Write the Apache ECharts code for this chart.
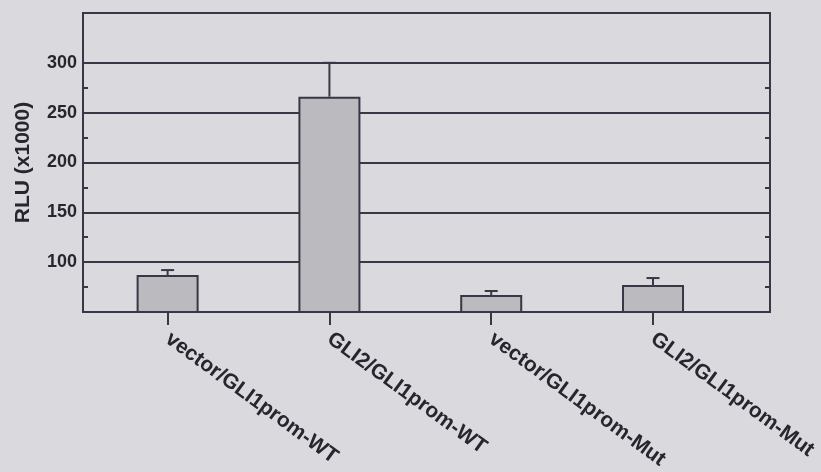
<!DOCTYPE html>
<html>
<head>
<meta charset="utf-8">
<script src="https://cdn.jsdelivr.net/npm/echarts@6/dist/echarts.min.js"></script>
<style>
  html, body { margin: 0; padding: 0; background: #dad9de; }
  #chart { width: 821px; height: 472px; }
</style>
</head>
<body>
<div id="chart"></div>
<script>
// Luciferase reporter activity, RLU (x1000)
const categories = [
  'vector/GLI1prom-WT',
  'GLI2/GLI1prom-WT',
  'vector/GLI1prom-Mut',
  'GLI2/GLI1prom-Mut'
];
const meanValues = [87, 266, 67, 77];
const errorTops  = [92, 300, 71, 84];
const yTicks = [100, 150, 200, 250, 300];
const yMinorTicks = [75, 125, 175, 225, 275];

const ink = '#373846';
const textInk = '#26262e';
const barFill = '#bbbabe';
const font = 'Liberation Sans, Arial, Helvetica, sans-serif';

const positions = categories.map((_, i) => i + 1);
const barData = positions.map((p, i) => [p, meanValues[i]]);
const errData = positions.map((p, i) => [p, meanValues[i], errorTops[i]]);

// small inward ticks between the gridlines, on either side of the plot
function minorTickAxis(side) {
  return {
    type: 'value',
    position: side,
    min: 50, max: 350, interval: 50,
    axisLine: { show: true, lineStyle: { color: ink, width: 2 } },
    axisTick: { show: true, inside: true, length: 5, lineStyle: { color: ink, width: 2 }, customValues: yMinorTicks },
    splitLine: { show: false },
    axisLabel: { show: false }
  };
}

const chart = echarts.init(document.getElementById('chart'));
chart.setOption({
  backgroundColor: '#dad9de',
  animation: false,
  grid: {
    left: 83, right: 51, top: 13, bottom: 160,
    containLabel: false,
    show: true, borderColor: ink, borderWidth: 2, backgroundColor: 'transparent'
  },
  xAxis: {
    type: 'value',
    min: 0.477, max: 4.723,
    axisLine: { show: true, onZero: false, lineStyle: { color: ink, width: 2 } },
    axisTick: { show: true, inside: false, length: 13, lineStyle: { color: ink, width: 2 }, customValues: positions },
    splitLine: { show: false },
    axisLabel: {
      customValues: positions,
      rotate: -36,
      margin: 25,
      color: textInk,
      fontFamily: font,
      fontSize: 21,
      fontWeight: 'bold',
      formatter: v => categories[Math.round(v) - 1] || ''
    }
  },
  yAxis: [{
    type: 'value',
    position: 'left',
    min: 50, max: 350, interval: 50,
    name: 'RLU (x1000)',
    nameLocation: 'middle',
    nameGap: 49,
    nameTextStyle: { color: textInk, fontFamily: font, fontSize: 21, fontWeight: 'bold' },
    axisLine: { show: true, lineStyle: { color: ink, width: 2 } },
    axisTick: { show: false },
    splitLine: { show: true, lineStyle: { color: ink, width: 2 } },
    axisLabel: {
      color: textInk, fontFamily: font, fontSize: 18, fontWeight: 'bold', margin: 6,
      customValues: yTicks
    }
  }, minorTickAxis('left'), minorTickAxis('right')],
  series: [{
    type: 'bar',
    data: barData,
    barWidth: 62,
    itemStyle: { color: barFill, borderColor: ink, borderWidth: 2 },
    z: 3
  }, {
    type: 'custom',
    data: errData,
    z: 4,
    renderItem: function (params, api) {
      const x = api.value(0);
      const base = api.coord([x, api.value(1)]);
      const top = api.coord([x, api.value(2)]);
      const half = 6.5;
      const style = { stroke: ink, lineWidth: 2 };
      return {
        type: 'group',
        children: [
          { type: 'line', shape: { x1: base[0], y1: base[1], x2: top[0], y2: top[1] }, style },
          { type: 'line', shape: { x1: top[0] - half, y1: top[1], x2: top[0] + half, y2: top[1] }, style }
        ]
      };
    }
  }]
});
</script>
</body>
</html>
